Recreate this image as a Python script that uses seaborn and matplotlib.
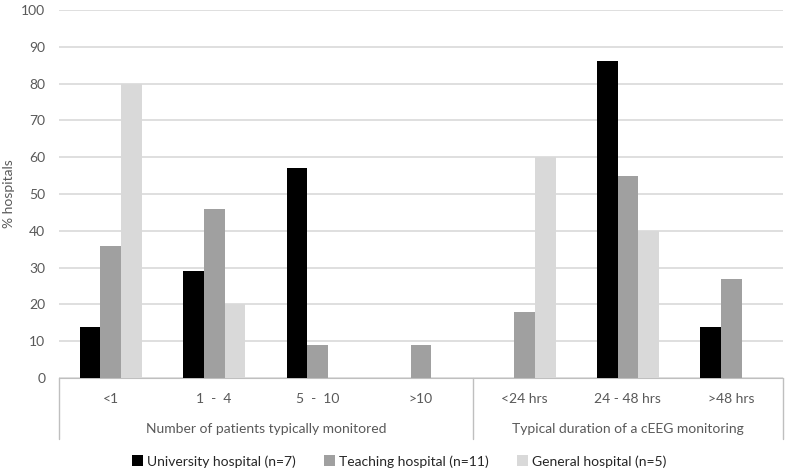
import pandas as pd
import matplotlib.pyplot as plt
import seaborn as sns

# data
categories = ['<1', '1  -  4', '5  -  10', '>10', '<24 hrs', '24 - 48 hrs', '>48 hrs']
university = [14, 29, 57, 0, 0, 86, 14]
teaching = [36, 46, 9, 9, 18, 55, 27]
general = [80, 20, 0, 0, 60, 40, 0]
series_names = ['University hospital (n=7)', 'Teaching hospital (n=11)', 'General hospital (n=5)']
group_labels = ['Number of patients typically monitored', 'Typical duration of a cEEG monitoring']
group_sizes = [4, 3]

df = pd.DataFrame({
    'category': categories * 3,
    'value': university + teaching + general,
    'series': [series_names[0]] * 7 + [series_names[1]] * 7 + [series_names[2]] * 7,
})

sns.set_style('white')
plt.rcParams['font.family'] = ['Lato', 'DejaVu Sans']
text_color = '#595959'
grid_color = '#d9d9d9'
fs = 10

fig = plt.figure(figsize=(7.87, 4.72), dpi=100)
ax = fig.add_axes([0.075, 0.199, 0.92, 0.78])

palette = ['#000000', '#a0a0a0', '#d9d9d9']
sns.barplot(data=df, x='category', y='value', hue='series', palette=palette,
            width=0.6, saturation=1, linewidth=0, ax=ax, zorder=3)

ax.set_ylim(0, 100)
ax.set_xlim(-0.5, len(categories) - 0.5)
ax.set_yticks(range(0, 101, 10))
ax.yaxis.grid(True, color=grid_color, linewidth=1.2, zorder=0)
ax.set_axisbelow(True)
for s in ['top', 'right', 'left']:
    ax.spines[s].set_visible(False)
ax.spines['bottom'].set_color('#bfbfbf')
ax.tick_params(axis='y', length=0, labelsize=fs, labelcolor=text_color, pad=10)
ax.tick_params(axis='x', length=0, labelsize=fs, labelcolor=text_color, pad=11)
ax.set_xlabel('')
ax.set_ylabel('% hospitals', fontsize=fs, color=text_color, labelpad=4)

# two-level category axis
trans = ax.get_xaxis_transform()
edges = [-0.5, -0.5 + group_sizes[0], len(categories) - 0.5]
for x in edges:
    ax.plot([x, x], [0, -0.165], transform=trans, color='#bfbfbf', lw=1, clip_on=False)
starts = [-0.5, -0.5 + group_sizes[0]]
for lab, st, n in zip(group_labels, starts, group_sizes):
    ax.text(st + n / 2, -0.155, lab, transform=trans, ha='center', va='bottom',
            fontsize=fs, color=text_color)

leg = ax.legend(loc='upper center', bbox_to_anchor=(0.47, -0.175), ncol=3, frameon=False,
                fontsize=fs, handlelength=0.8, handleheight=0.8, handletextpad=0.3,
                columnspacing=2.0)
for t in leg.get_texts():
    t.set_color('#262626')

fig.savefig('out.png', dpi=100)
